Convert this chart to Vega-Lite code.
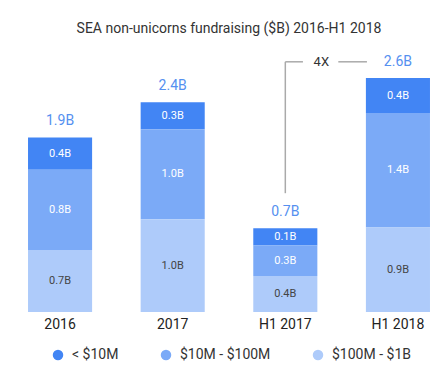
{
  "$schema": "https://vega.github.io/schema/vega-lite/v6.json",
  "width": 438,
  "height": 270,
  "autosize": "none",
  "padding": {"left": 10, "top": 42, "right": 0, "bottom": 76},
  "config": {"view": {"stroke": null}, "font": "Roboto"},
  "title": {"text": "SEA non-unicorns fundraising ($B) 2016-H1 2018", "fontSize": 14, "fontWeight": "normal", "color": "#333333", "anchor": "middle", "offset": 6},
  "data": {"values": [
    {"year": "2016", "segment": "< $10M", "amount": 0.36, "label": "0.4B"},
    {"year": "2016", "segment": "$10M - $100M", "amount": 0.89, "label": "0.8B"},
    {"year": "2016", "segment": "$100M - $1B", "amount": 0.69, "label": "0.7B"},
    {"year": "2017", "segment": "< $10M", "amount": 0.30, "label": "0.3B"},
    {"year": "2017", "segment": "$10M - $100M", "amount": 1.0, "label": "1.0B"},
    {"year": "2017", "segment": "$100M - $1B", "amount": 1.03, "label": "1.0B"},
    {"year": "H1 2017", "segment": "< $10M", "amount": 0.19, "label": "0.1B"},
    {"year": "H1 2017", "segment": "$10M - $100M", "amount": 0.34, "label": "0.3B"},
    {"year": "H1 2017", "segment": "$100M - $1B", "amount": 0.40, "label": "0.4B"},
    {"year": "H1 2018", "segment": "< $10M", "amount": 0.39, "label": "0.4B"},
    {"year": "H1 2018", "segment": "$10M - $100M", "amount": 1.27, "label": "1.4B"},
    {"year": "H1 2018", "segment": "$100M - $1B", "amount": 0.94, "label": "0.9B"}
  ]},
  "encoding": {
    "x": {
      "field": "year", "type": "nominal",
      "sort": ["2016", "2017", "H1 2017", "H1 2018"],
      "scale": {"paddingInner": 0.431, "paddingOuter": 0.16},
      "axis": {"title": null, "domain": false, "ticks": false, "labelAngle": 0, "labelPadding": 5, "labelFontSize": 14, "labelFontWeight": "normal", "labelColor": "#222222"}
    }
  },
  "layer": [
    {
      "mark": {"type": "bar"},
      "encoding": {
        "y": {"field": "amount", "type": "quantitative", "stack": "zero", "scale": {"domain": [0, 3]}, "axis": null},
        "order": {"field": "segment", "sort": "ascending"},
        "color": {
          "field": "segment", "type": "nominal",
          "scale": {"domain": ["< $10M", "$10M - $100M", "$100M - $1B"], "range": ["#4285f4", "#7baaf7", "#aecbfa"]},
          "legend": {"title": null, "orient": "none", "legendX": 41, "legendY": 306, "direction": "horizontal", "symbolType": "circle", "symbolSize": 110, "symbolStrokeWidth": 0, "labelFontSize": 14, "labelColor": "#333333", "columnPadding": 40, "labelOffset": 7}
        }
      }
    },
    {
      "transform": [
        {"stack": "amount", "groupby": ["year"], "sort": [{"field": "segment", "order": "ascending"}], "as": ["v0", "v1"]},
        {"fold": ["v0", "v1"], "as": ["k", "edge"]},
        {"aggregate": [{"op": "mean", "field": "edge", "as": "mid"}], "groupby": ["year", "segment", "label"]}
      ],
      "mark": {"type": "text", "fontSize": 11, "baseline": "middle"},
      "encoding": {
        "y": {"field": "mid", "type": "quantitative"},
        "text": {"field": "label"},
        "color": {"condition": {"test": "datum.segment === '$100M - $1B'", "value": "#444444"}, "value": "#ffffff"}
      }
    },
    {
      "data": {"values": [
        {"year": "2016", "total": 1.94, "label": "1.9B"},
        {"year": "2017", "total": 2.33, "label": "2.4B"},
        {"year": "H1 2017", "total": 0.93, "label": "0.7B"},
        {"year": "H1 2018", "total": 2.6, "label": "2.6B"}
      ]},
      "mark": {"type": "text", "fontSize": 14, "baseline": "middle", "dy": -16, "color": "#5590f0"},
      "encoding": {
        "y": {"field": "total", "type": "quantitative"},
        "text": {"field": "label"}
      }
    },
    {
      "data": {"values": [{"year": "H1 2017", "from": 1.32, "to": 2.78}]},
      "mark": {"type": "rule", "color": "#aaaaaa", "strokeWidth": 1.5},
      "encoding": {
        "y": {"field": "from", "type": "quantitative"},
        "y2": {"field": "to"}
      }
    },
    {
      "data": {"values": [{"year": "H1 2017", "year2": "H1 2018", "level": 2.78}]},
      "mark": {"type": "rule", "color": "#aaaaaa", "strokeWidth": 1.5, "x2Offset": -95},
      "encoding": {
        "x2": {"field": "year2"},
        "y": {"field": "level", "type": "quantitative"}
      }
    },
    {
      "data": {"values": [{"year": "H1 2017", "year2": "H1 2018", "level": 2.78}]},
      "mark": {"type": "rule", "color": "#aaaaaa", "strokeWidth": 1.5, "xOffset": 53, "x2Offset": -31},
      "encoding": {
        "x2": {"field": "year2"},
        "y": {"field": "level", "type": "quantitative"}
      }
    },
    {
      "data": {"values": [{"year": "H1 2017", "level": 2.78, "text": "4X"}]},
      "mark": {"type": "text", "fontSize": 13, "baseline": "middle", "dx": 36, "color": "#333333"},
      "encoding": {
        "y": {"field": "level", "type": "quantitative"},
        "text": {"field": "text"}
      }
    }
  ]
}
